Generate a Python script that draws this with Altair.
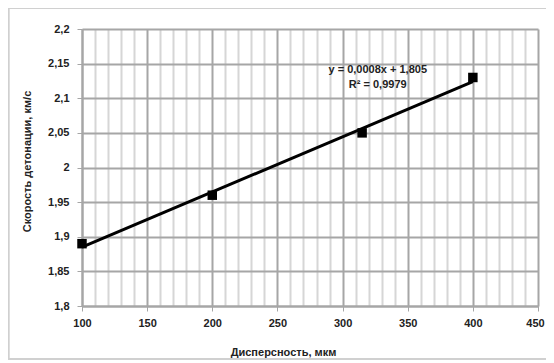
import altair as alt
import pandas as pd

# ---- data ----
x_vals = [100, 200, 315, 400]
y_vals = [1.89, 1.96, 2.05, 2.13]
x_ticks = list(range(100, 451, 10))
y_ticks = [1.8, 1.85, 1.9, 1.95, 2.0, 2.05, 2.1, 2.15, 2.2]
eq_text = ["y = 0,0008x + 1,805", "R² = 0,9979"]
eq_x = [327, 327]
eq_y = [2.141, 2.119]

df = pd.DataFrame({"x": x_vals, "y": y_vals})
ann = pd.DataFrame({"x": eq_x, "y": eq_y, "t": eq_text})

FONT = "Liberation Sans"
W, H = 456, 277

xscale = alt.Scale(domain=[100, 450], nice=False, zero=False)
yscale = alt.Scale(domain=[1.8, 2.2], nice=False, zero=False)

MAJOR = "datum.value % 50 === 0"

xaxis = alt.Axis(
    values=x_ticks,
    format="d",
    labelExpr=f"{MAJOR} ? datum.label : ''",
    labelOverlap=False,
    labelFlush=False,
    labelOffset={"condition": {"test": "datum.value === 450", "value": -3}, "value": 0},
    gridColor={"condition": {"test": MAJOR, "value": "#a6a6a6"}, "value": "#d6d6d6"},
    gridWidth=2,
    tickColor={"condition": {"test": MAJOR, "value": "#a6a6a6"}, "value": "transparent"},
    tickSize=5,
    labelPadding=6,
    title="Дисперсность, мкм",
    titleX=201,
    titleY=46,
    titleBaseline="middle",
    titleAnchor="start",
    titleAlign="center",
)

yaxis = alt.Axis(
    values=y_ticks,
    labelExpr="replace(format(datum.value, '.2~f'), '.', ',')",
    labelOverlap=False,
    labelFlush=False,
    gridColor="#a6a6a6",
    gridWidth=2,
    tickColor="#a6a6a6",
    tickSize=5,
    labelPadding=8,
    title="Скорость детонации, км/с",
    titleX=-55,
    titleY=132,
    titleBaseline="middle",
    titleAlign="center",
    titleAngle=270,
)

X = alt.X("x:Q", scale=xscale, axis=xaxis)
Y = alt.Y("y:Q", scale=yscale, axis=yaxis)

base = alt.Chart(df)

border = base.mark_rect(fill=None, stroke="#d0d0d0", strokeWidth=1.5).encode(
    x=alt.value(-73.5), x2=alt.value(W + 40), y=alt.value(-21), y2=alt.value(H + 53)
)

trend = base.transform_regression("x", "y", extent=[100, 400]).mark_line(
    color="black", strokeWidth=3
).encode(x=X, y=Y)

pts = base.mark_point(shape="square", filled=True, color="black", size=90, opacity=1).encode(
    x=X, y=Y
)

labels = alt.Chart(ann).mark_text(
    font=FONT, fontSize=11, fontWeight="bold", color="#222222", align="center", baseline="middle"
).encode(x=X, y=Y, text="t:N")

chart = alt.layer(trend, pts, labels, border).properties(
    width=W,
    height=H,
    autosize=alt.AutoSizeParams(type="none"),
    padding={"left": 74, "top": 21, "right": 8, "bottom": 55},
    background="white",
).configure_view(
    stroke=None
).configure_axis(
    labelFont=FONT,
    titleFont=FONT,
    labelFontSize=11,
    titleFontSize=11,
    labelFontWeight="bold",
    titleFontWeight="bold",
    labelColor="#222222",
    titleColor="#222222",
    domainColor="#a6a6a6",
    domainWidth=2,
)

chart.save("out.html", embed_options={"renderer": "svg", "actions": False})
